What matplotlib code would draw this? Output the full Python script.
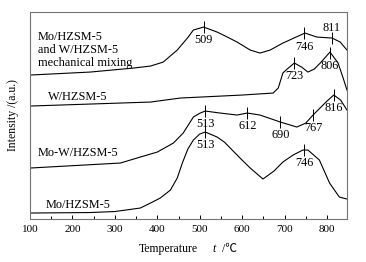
import numpy as np
import matplotlib
matplotlib.use('Agg')
import matplotlib.pyplot as plt

plt.rcParams['font.family'] = ['Liberation Serif', 'DejaVu Serif', 'DejaVu Sans']

# TPR-like traces (intensity in arbitrary units)
t_mo = [100, 242, 300, 360, 384, 407, 431, 447, 459, 472, 485, 500, 513, 541, 558, 595,
        619, 649, 675, 696, 720, 743, 755, 782, 806, 829, 847]
y_mo = [6, 6.5, 7.5, 11, 16, 21, 29, 41, 56, 70, 79, 85, 87, 82, 77, 61,
        51, 40, 48, 57, 64, 69, 69, 59, 36, 22, 20]

t_mow = [100, 313, 360, 400, 438, 461, 485, 501, 513, 548, 588, 612, 642, 690,
         729, 750, 767, 800, 816, 832, 847]
y_mow = [51, 56, 62, 67, 76, 86, 102, 106, 108, 106, 104, 106, 104, 97,
         92, 96, 104, 118, 124, 119, 109]

t_w = [100, 384, 454, 600, 673, 685, 696, 706, 723, 740, 755, 770, 784, 807, 826, 838, 847]
y_w = [113, 117, 121, 124, 126, 131, 146, 150, 156, 152, 147, 150, 156, 167, 156, 141, 129]

t_mix = [100, 242, 344, 384, 414, 447, 471, 485, 509, 541, 565, 588, 619, 642, 666, 696,
         748, 776, 812, 831, 847]
y_mix = [144, 147, 151, 153, 157, 169, 181, 189, 192, 187, 182, 177, 169, 166, 169, 176,
         186, 182, 181, 177, 169]

# peak markers: (curve index, temperature, label)
peaks = [(0, 513, '513'), (0, 746, '746'),
         (1, 513, '513'), (1, 612, '612'), (1, 690, '690'), (1, 767, '767'), (1, 816, '816'),
         (2, 723, '723'), (2, 806, '806'),
         (3, 509, '509'), (3, 746, '746'), (3, 811, '811')]

names = ['Mo/HZSM-5', 'Mo-W/HZSM-5', 'W/HZSM-5',
         'Mo/HZSM-5\nand W/HZSM-5\nmechanical mixing']
name_pos = [(136, 8), (118, 60), (143, 116), (118, 150)]

curves = [(t_mo, y_mo), (t_mow, y_mow), (t_w, y_w), (t_mix, y_mix)]

fig = plt.figure(figsize=(3.66, 2.62), dpi=100)
ax = fig.add_axes([0.082, 0.164, 0.866, 0.790])

for t, y in curves:
    ax.plot(t, y, color='black', lw=0.8)

for i, temp, lab in peaks:
    t, y = curves[i]
    yp = np.interp(temp, t, y)
    ax.plot([temp], [yp], marker='|', ms=8.5, mew=0.7, color='black')
    if lab == '811':
        off = (0, 7.5)
    else:
        off = (0, -9.5)
    ax.annotate(lab, (temp, yp), xytext=off, textcoords='offset points',
                ha='center', va='center', fontsize=8.8)

for name, (tx, ty) in zip(names, name_pos):
    ax.text(tx, ty, name, fontsize=8.8, ha='left', va='bottom', linespacing=1.1)

ax.set_xlim(100, 847)
ax.set_ylim(0, 207)
ax.set_xticks([100, 200, 300, 400, 500, 600, 700, 800])
ax.set_xticks(np.arange(150, 847, 100), minor=True)
ax.set_yticks([])
ax.tick_params(axis='x', which='major', direction='in', length=3, width=0.7, labelsize=8, pad=4)
ax.tick_params(axis='x', which='minor', direction='in', length=2, width=0.7)
for s in ax.spines.values():
    s.set_color('0.45')
    s.set_linewidth(0.8)

# x label in pieces: roman word, italic t, unit with a fallback font for the degree sign
ax.text(0.435, -0.145, 'Temperature', transform=ax.transAxes, fontsize=8.5,
        ha='center', va='center')
ax.text(0.582, -0.145, 't', transform=ax.transAxes, fontsize=8.5, style='italic',
        ha='center', va='center')
ax.text(0.595, -0.145, ' /℃', transform=ax.transAxes, fontsize=8.5,
        ha='left', va='center', family=['Liberation Serif', 'Noto Sans CJK SC', 'DejaVu Sans'])
ax.set_ylabel('Intensity /(a.u.)', fontsize=8.5, labelpad=8)

fig.savefig('out.png', dpi=100)
